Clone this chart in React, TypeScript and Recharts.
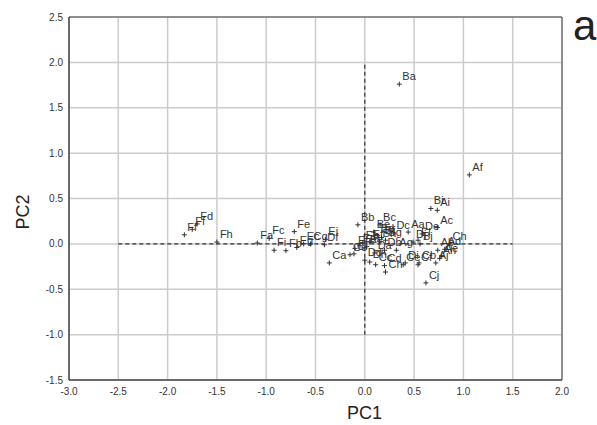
import React from 'react';
import { ScatterChart, Scatter, XAxis, YAxis, CartesianGrid, ReferenceLine, ReferenceArea } from 'recharts';

const names = [
  'Ff', 'Ff', 'Fd', 'Fh', 'Fa', 'Fc', 'Fe', 'Fi', 'Fb', 'Eg', 'Ec', 'Cg', 'Ei', 'Df', 'Ca', 'Ce', 'Ci',
  'Bb', 'Eh', 'Ea', 'Ee', 'Ef', 'Bc', 'Be', 'Bd', 'Bf', 'Bg', 'Bh', 'Dc', 'Aa', 'De', 'Ac', 'Bi', 'Ai',
  'Af', 'Ba', 'El', 'Bj', 'Ch', 'Ab', 'Ad', 'Ae', 'Ah', 'Cb', 'Aj', 'Cj', 'Di', 'Ag', 'Dj', 'Db', 'Dd',
  'Dh', 'Cc', 'Cd', 'Ch', 'Ce', 'Cf', 'Da', 'Eb',
];
const pc1 = [
  -1.83, -1.75, -1.70, -1.50, -1.09, -0.97, -0.715, -0.92, -0.80, -0.69, -0.62, -0.55, -0.40, -0.41, -0.36, -0.15, -0.11,
  -0.07, -0.10, -0.05, 0.02, 0.05, 0.155, 0.09, 0.13, 0.17, 0.21, 0.15, 0.29, 0.44, 0.58, 0.735, 0.67, 0.735,
  1.06, 0.35, 0.54, 0.56, 0.86, 0.74, 0.81, 0.78, 0.76, 0.55, 0.72, 0.62, 0.41, 0.32, 0.49, 0.20, 0.0,
  0.05, 0.11, 0.20, 0.21, 0.39, 0.54, 0.10, -0.02,
];
const pc2 = [
  0.10, 0.16, 0.22, 0.02, 0.01, 0.06, 0.135, -0.07, -0.075, -0.04, 0.0, 0.0, 0.05, -0.01, -0.21, -0.12, -0.11,
  0.21, -0.05, -0.02, -0.03, 0.02, 0.21, 0.13, 0.09, 0.07, 0.04, 0.03, 0.12, 0.13, 0.11, 0.18, 0.39, 0.37,
  0.76, 1.76, 0.04, 0.0, 0.0, -0.07, -0.06, -0.13, -0.16, -0.21, -0.21, -0.43, -0.21, -0.07, 0.02, -0.07, -0.18,
  -0.20, -0.23, -0.24, -0.31, -0.23, -0.23, -0.10, 0.01,
];
const xTicks = [-3.0, -2.5, -2.0, -1.5, -1.0, -0.5, 0.0, 0.5, 1.0, 1.5, 2.0];
const yTicks = [-1.5, -1.0, -0.5, 0.0, 0.5, 1.0, 1.5, 2.0, 2.5];

const data = names.map((n, i) => ({ name: n, x: pc1[i], y: pc2[i] }));

const FONT = '"Liberation Sans", Arial, sans-serif';

const PlusMark = (props: any) => {
  const { cx, cy, payload } = props;
  if (cx == null || cy == null) return null;
  return (
    <g>
      <path d={`M${cx - 2.5},${cy}H${cx + 2.5}M${cx},${cy - 2.5}V${cy + 2.5}`} stroke="#333" strokeWidth={1} />
      <text x={cx + 3} y={cy - 4} fontSize={11} fill="#333" fontFamily={FONT}>{payload.name}</text>
    </g>
  );
};

export default function App() {
  return (
    <div style={{ position: 'absolute', left: 0, top: 0, width: 597, height: 425, background: '#fff' }}>
      <ScatterChart width={597} height={425} margin={{ top: 17, right: 35, bottom: 15, left: 9 }}>
        <CartesianGrid stroke="#cccccc" strokeWidth={1.5} horizontalValues={yTicks} verticalValues={xTicks} />
        <XAxis
          type="number"
          dataKey="x"
          domain={[-3, 2]}
          ticks={xTicks}
          tickFormatter={(v: number) => v.toFixed(1)}
          tick={{ fontSize: 10, fill: '#333', fontFamily: FONT }}
          tickLine={false}
          axisLine={{ stroke: '#444' }}
          height={30}
          allowDataOverflow
          label={{
            content: () => (
              <text x={364.5} y={419} textAnchor="middle" fontSize={18} fill="#222" fontFamily={FONT}>PC1</text>
            ),
          }}
        />
        <YAxis
          type="number"
          dataKey="y"
          domain={[-1.5, 2.5]}
          ticks={yTicks}
          tickFormatter={(v: number) => v.toFixed(1)}
          tick={{ fontSize: 10, fill: '#333', fontFamily: FONT }}
          tickLine={false}
          tickSize={5}
          tickMargin={1}
          axisLine={{ stroke: '#444' }}
          width={60}
          allowDataOverflow
          label={{
            content: () => (
              <text x={29} y={212} transform="rotate(-90 29 212)" textAnchor="middle" fontSize={18} fill="#222" fontFamily={FONT}>PC2</text>
            ),
          }}
        />
        <ReferenceArea x1={-3} x2={2} y1={-1.5} y2={2.5} fill="none" stroke="#444" strokeWidth={1} />
        <ReferenceLine segment={[{ x: -2.5, y: 0 }, { x: 1.5, y: 0 }]} stroke="#333" strokeDasharray="4 3" strokeWidth={1.2} />
        <ReferenceLine segment={[{ x: 0, y: -1 }, { x: 0, y: 2 }]} stroke="#333" strokeDasharray="4 3" strokeWidth={1.2} />
        <Scatter data={data} shape={<PlusMark />} isAnimationActive={false} />
        <text x={573} y={40} fontSize={42} fill="#222" fontFamily={FONT}>a</text>
      </ScatterChart>
    </div>
  );
}
